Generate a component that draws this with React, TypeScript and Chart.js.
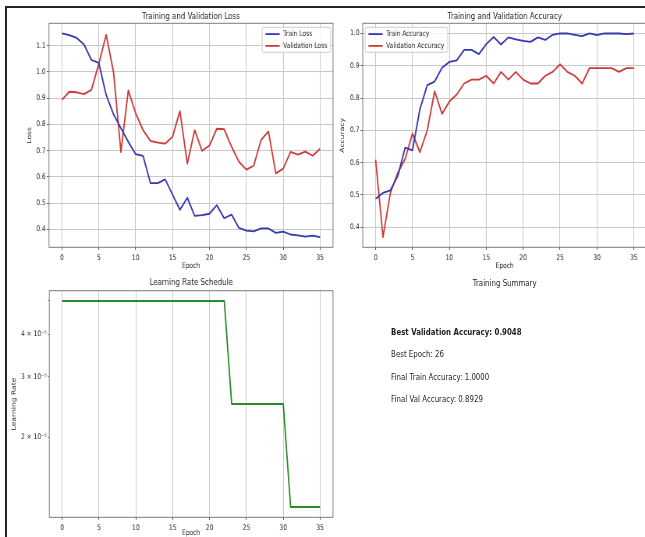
import React, { useEffect, useRef } from 'react';
import { Chart, registerables } from 'chart.js';

Chart.register(...registerables);

// ---------------- data ----------------
const epochs = [0, 1, 2, 3, 4, 5, 6, 7, 8, 9, 10, 11, 12, 13, 14, 15, 16, 17, 18, 19, 20, 21, 22, 23, 24, 25, 26, 27, 28, 29, 30, 31, 32, 33, 34, 35];

const trainLoss = [1.146, 1.140, 1.129, 1.104, 1.045, 1.034, 0.912, 0.838, 0.785, 0.733, 0.686, 0.680, 0.576, 0.576, 0.590, 0.532, 0.474, 0.520, 0.451, 0.454, 0.459, 0.492, 0.442, 0.456, 0.405, 0.395, 0.392, 0.403, 0.403, 0.386, 0.391, 0.380, 0.377, 0.372, 0.376, 0.370];
const valLoss = [0.893, 0.924, 0.922, 0.915, 0.931, 1.030, 1.141, 0.998, 0.694, 0.929, 0.842, 0.778, 0.737, 0.730, 0.726, 0.753, 0.850, 0.650, 0.778, 0.699, 0.719, 0.783, 0.781, 0.714, 0.657, 0.627, 0.642, 0.740, 0.773, 0.613, 0.631, 0.695, 0.684, 0.696, 0.680, 0.707];

const trainAcc = [0.488, 0.506, 0.514, 0.558, 0.646, 0.638, 0.765, 0.840, 0.851, 0.894, 0.912, 0.917, 0.949, 0.949, 0.936, 0.967, 0.989, 0.966, 0.988, 0.982, 0.977, 0.974, 0.988, 0.980, 0.996, 1.000, 1.000, 0.996, 0.992, 1.000, 0.995, 1.000, 1.000, 1.000, 0.998, 1.000];
const valAcc = [0.609, 0.369, 0.506, 0.568, 0.611, 0.690, 0.632, 0.700, 0.821, 0.751, 0.789, 0.811, 0.845, 0.857, 0.857, 0.869, 0.845, 0.881, 0.857, 0.881, 0.857, 0.845, 0.845, 0.869, 0.881, 0.9048, 0.881, 0.869, 0.845, 0.8929, 0.8929, 0.8929, 0.8929, 0.881, 0.8929, 0.8929];

const learningRate = [
  5e-5, 5e-5, 5e-5, 5e-5, 5e-5, 5e-5, 5e-5, 5e-5, 5e-5, 5e-5, 5e-5, 5e-5,
  5e-5, 5e-5, 5e-5, 5e-5, 5e-5, 5e-5, 5e-5, 5e-5, 5e-5, 5e-5, 5e-5,
  2.5e-5, 2.5e-5, 2.5e-5, 2.5e-5, 2.5e-5, 2.5e-5, 2.5e-5, 2.5e-5,
  1.25e-5, 1.25e-5, 1.25e-5, 1.25e-5, 1.25e-5,
];

const epochTicks = [0, 5, 10, 15, 20, 25, 30, 35];
const lossTicks = [0.4, 0.5, 0.6, 0.7, 0.8, 0.9, 1.0, 1.1];
const accTicks = [0.4, 0.5, 0.6, 0.7, 0.8, 0.9, 1.0];
const lrTicks = [2e-5, 3e-5, 4e-5, 5e-5];
const lrTickLabels = ['2 × 10⁻⁵', '3 × 10⁻⁵', '4 × 10⁻⁵', ''];

const summaryTitle = 'Training Summary';
const summaryLines = [
  'Best Validation Accuracy: 0.9048',
  'Best Epoch: 26',
  'Final Train Accuracy: 1.0000',
  'Final Val Accuracy: 0.8929',
];

// ---------------- style / layout ----------------
const K = 0.78; // horizontal squeeze of the reference
const INNER_W = 645 / K;
const FONT = '"DejaVu Sans", sans-serif';
const BLUE = '#3737b0';
const RED = '#cc3a3a';
const GREEN = '#288a28';
const SPINE = '#7a7a7a';
const GRID = '#c8c8c8';
const TEXT = '#1e1e1e';

Chart.defaults.font.family = FONT;

function margins(values: number[], m = 0.05): [number, number] {
  const lo = Math.min(...values);
  const hi = Math.max(...values);
  const r = hi - lo;
  return [lo - m * r, hi + m * r];
}
function logMargins(values: number[], m = 0.05): [number, number] {
  const lo = Math.log10(Math.min(...values));
  const hi = Math.log10(Math.max(...values));
  const r = hi - lo;
  return [Math.pow(10, lo - m * r), Math.pow(10, hi + m * r)];
}

const mplPlugin = {
  id: 'mpl',
  afterDatasetsDraw(chart: any, _args: any, opts: any) {
    const { ctx, chartArea: ca } = chart;
    ctx.save();
    ctx.strokeStyle = SPINE;
    ctx.lineWidth = 1;
    ctx.strokeRect(ca.left, ca.top, ca.right - ca.left, ca.bottom - ca.top);
    const lg = opts && opts.legend;
    if (lg) {
      ctx.font = `7.6px ${FONT}`;
      const items = chart.data.datasets.map((d: any) => ({ label: d.label, color: d.borderColor }));
      const textW = Math.max(...items.map((it: any) => ctx.measureText(it.label).width));
      const pad = 4.3, hl = 18.2, gap = 4.5;
      const w = pad + hl + gap + textW + pad;
      const h = 25;
      const x0 = lg.align === 'right' ? ca.right - 3 - w : ca.left + 3;
      const y0 = ca.top + 4;
      const r = 2;
      ctx.beginPath();
      ctx.moveTo(x0 + r, y0);
      ctx.arcTo(x0 + w, y0, x0 + w, y0 + h, r);
      ctx.arcTo(x0 + w, y0 + h, x0, y0 + h, r);
      ctx.arcTo(x0, y0 + h, x0, y0, r);
      ctx.arcTo(x0, y0, x0 + w, y0, r);
      ctx.closePath();
      ctx.fillStyle = 'rgba(255,255,255,0.8)';
      ctx.fill();
      ctx.strokeStyle = '#cccccc';
      ctx.lineWidth = 1;
      ctx.stroke();
      items.forEach((it: any, i: number) => {
        const yy = y0 + 6.8 + i * 11.8;
        ctx.beginPath();
        ctx.moveTo(x0 + pad, yy);
        ctx.lineTo(x0 + pad + hl, yy);
        ctx.strokeStyle = it.color;
        ctx.lineWidth = 1.8;
        ctx.stroke();
        ctx.fillStyle = TEXT;
        ctx.textBaseline = 'middle';
        ctx.textAlign = 'left';
        ctx.fillText(it.label, x0 + pad + hl + gap, yy);
      });
    }
    ctx.restore();
  },
};

type Spec = {
  width: number;
  height: number;
  area: { left: number; right: number; top: number; bottom: number };
  title: string;
  titleY: number;
  xTitleY: number;
  yTitle: string;
  yTitleX: number;
  datasets: { label: string; values: number[]; color: string }[];
  yType: 'linear' | 'logarithmic';
  yRange: [number, number];
  yTicks: number[];
  yLabel: (v: number, i: number) => string;
  yGrid: boolean;
  yTickLen: number;
  yTickPad: number;
  legend?: { align: 'left' | 'right' };
};

const xRange = margins(epochs);

function makeConfig(s: Spec): any {
  const tickFont = { family: FONT, size: 7.6 };
  return {
    type: 'line',
    data: {
      datasets: s.datasets.map((d) => ({
        label: d.label,
        data: epochs.map((e, i) => ({ x: e, y: d.values[i] })),
        borderColor: d.color,
        backgroundColor: d.color,
        borderWidth: 1.8,
        borderJoinStyle: 'round',
        pointRadius: 0,
        pointHoverRadius: 0,
        tension: 0,
        fill: false,
      })),
    },
    plugins: [mplPlugin],
    options: {
      responsive: false,
      animation: false,
      devicePixelRatio: 1,
      events: [],
      layout: { padding: { left: 0, top: 0, bottom: 0, right: s.width - s.area.right } },
      plugins: {
        legend: { display: false },
        tooltip: { enabled: false },
        title: {
          display: true,
          text: s.title,
          fullSize: false,
          color: TEXT,
          font: { family: FONT, size: 9, weight: 'normal', lineHeight: 1.2 },
          padding: { top: s.titleY - 5.4, bottom: s.area.top - s.titleY - 5.4 },
        },
        mpl: { legend: s.legend },
      },
      scales: {
        x: {
          type: 'linear',
          min: xRange[0],
          max: xRange[1],
          bounds: 'data',
          afterBuildTicks: (sc: any) => {
            sc.ticks = epochTicks.map((v) => ({ value: v }));
          },
          afterFit: (sc: any) => {
            sc.height = s.height - s.area.bottom;
          },
          ticks: {
            autoSkip: false,
            maxRotation: 0,
            minRotation: 0,
            padding: 3.2,
            color: TEXT,
            font: tickFont,
            callback: (v: any) => String(v),
          },
          grid: { display: true, color: GRID, lineWidth: 1, drawTicks: true, tickLength: 2.6, tickColor: '#555', tickWidth: 1 },
          border: { display: false },
          title: {
            display: true,
            text: 'Epoch',
            color: TEXT,
            font: tickFont,
            padding: { top: 0, bottom: s.height - s.xTitleY - 4.56 },
          },
        },
        y: {
          type: s.yType,
          min: s.yRange[0],
          max: s.yRange[1],
          bounds: 'data',
          afterBuildTicks: (sc: any) => {
            sc.ticks = s.yTicks.map((v) => ({ value: v }));
          },
          afterFit: (sc: any) => {
            sc.width = s.area.left;
          },
          ticks: {
            autoSkip: false,
            padding: s.yTickPad,
            color: TEXT,
            font: tickFont,
            callback: (v: any, i: number) => s.yLabel(Number(v), i),
          },
          grid: {
            display: true,
            drawOnChartArea: s.yGrid,
            color: GRID,
            lineWidth: 1,
            drawTicks: true,
            tickLength: s.yTickLen,
            tickColor: '#555',
            tickWidth: 1,
          },
          border: { display: false },
          title: {
            display: true,
            text: s.yTitle,
            color: TEXT,
            font: tickFont,
            padding: { top: s.yTitleX - 4.56, bottom: 0 },
          },
        },
      },
    },
  };
}

const LOSS_BOX = { left: 0, top: 0, width: 436, height: 280 };
const ACC_BOX = { left: 428, top: 0, width: 412, height: 280 };
const LR_BOX = { left: 0, top: 270, width: 436, height: 272 };

const lossSpec: Spec = {
  width: LOSS_BOX.width,
  height: LOSS_BOX.height,
  area: { left: 62.8, right: 426.9, top: 23.3, bottom: 247.3 },
  title: 'Training and Validation Loss',
  titleY: 16.7,
  xTitleY: 265.9,
  yTitle: 'Loss',
  yTitleX: 38.5,
  datasets: [
    { label: 'Train Loss', values: trainLoss, color: BLUE },
    { label: 'Validation Loss', values: valLoss, color: RED },
  ],
  yType: 'linear',
  yRange: margins([...trainLoss, ...valLoss]),
  yTicks: lossTicks,
  yLabel: (v) => v.toFixed(1),
  yGrid: true,
  yTickLen: 2.7,
  yTickPad: 1.5,
  legend: { align: 'right' },
};

const accSpec: Spec = {
  width: ACC_BOX.width,
  height: ACC_BOX.height,
  area: { left: 37, right: 401.1, top: 23.3, bottom: 247.3 },
  title: 'Training and Validation Accuracy',
  titleY: 16.7,
  xTitleY: 265.9,
  yTitle: 'Accuracy',
  yTitleX: 11.4,
  datasets: [
    { label: 'Train Accuracy', values: trainAcc, color: BLUE },
    { label: 'Validation Accuracy', values: valAcc, color: RED },
  ],
  yType: 'linear',
  yRange: margins([...trainAcc, ...valAcc]),
  yTicks: accTicks,
  yLabel: (v) => v.toFixed(1),
  yGrid: true,
  yTickLen: 2.7,
  yTickPad: 1.5,
  legend: { align: 'left' },
};

const lrSpec: Spec = {
  width: LR_BOX.width,
  height: LR_BOX.height,
  area: { left: 63.2, right: 426.9, top: 20.7, bottom: 247.3 },
  title: 'Learning Rate Schedule',
  titleY: 12.5,
  xTitleY: 263.3,
  yTitle: 'Learning Rate',
  yTitleX: 17.9,
  datasets: [{ label: 'Learning Rate', values: learningRate, color: GREEN }],
  yType: 'logarithmic',
  yRange: logMargins(learningRate),
  yTicks: lrTicks,
  yLabel: (_v, i) => lrTickLabels[i] ?? '',
  yGrid: false,
  yTickLen: 1.6,
  yTickPad: 1.8,
};

function ChartCanvas({ box, spec }: { box: typeof LOSS_BOX; spec: Spec }) {
  const ref = useRef<HTMLCanvasElement>(null);
  useEffect(() => {
    if (!ref.current) return;
    const chart = new Chart(ref.current, makeConfig(spec));
    return () => chart.destroy();
  }, [spec]);
  return (
    <canvas
      ref={ref}
      width={box.width}
      height={box.height}
      style={{ position: 'absolute', left: box.left, top: box.top, width: box.width, height: box.height }}
    />
  );
}

export default function App() {
  const textBase: React.CSSProperties = {
    position: 'absolute',
    fontFamily: FONT,
    fontSize: 9,
    lineHeight: '12px',
    color: TEXT,
    whiteSpace: 'nowrap',
  };
  const lineCenters = [332, 354.2, 376.7, 398.9];
  return (
    <div
      style={{
        position: 'fixed',
        left: 0,
        top: 0,
        width: 645,
        height: 537,
        overflow: 'hidden',
        background: '#ffffff',
      }}
    >
      <div
        style={{
          position: 'absolute',
          left: 0,
          top: 0,
          width: INNER_W,
          height: 537,
          overflow: 'hidden',
          transform: `scaleX(${K})`,
          transformOrigin: '0 0',
        }}
      >
        <ChartCanvas box={LOSS_BOX} spec={lossSpec} />
        <ChartCanvas box={ACC_BOX} spec={accSpec} />
        <ChartCanvas box={LR_BOX} spec={lrSpec} />
        <div style={{ ...textBase, left: 547, width: 200, textAlign: 'center', top: 282.5 - 6 }}>{summaryTitle}</div>
        {summaryLines.map((t, i) => (
          <div
            key={t}
            style={{ ...textBase, left: 501.4, top: lineCenters[i] - 6, fontWeight: i === 0 ? 'bold' : 'normal' }}
          >
            {t}
          </div>
        ))}
      </div>
      <div
        style={{
          position: 'absolute',
          left: 5,
          top: 6,
          right: 0,
          bottom: 0,
          borderTop: '2px solid #222',
          borderLeft: '2px solid #222',
          pointerEvents: 'none',
        }}
      />
    </div>
  );
}
